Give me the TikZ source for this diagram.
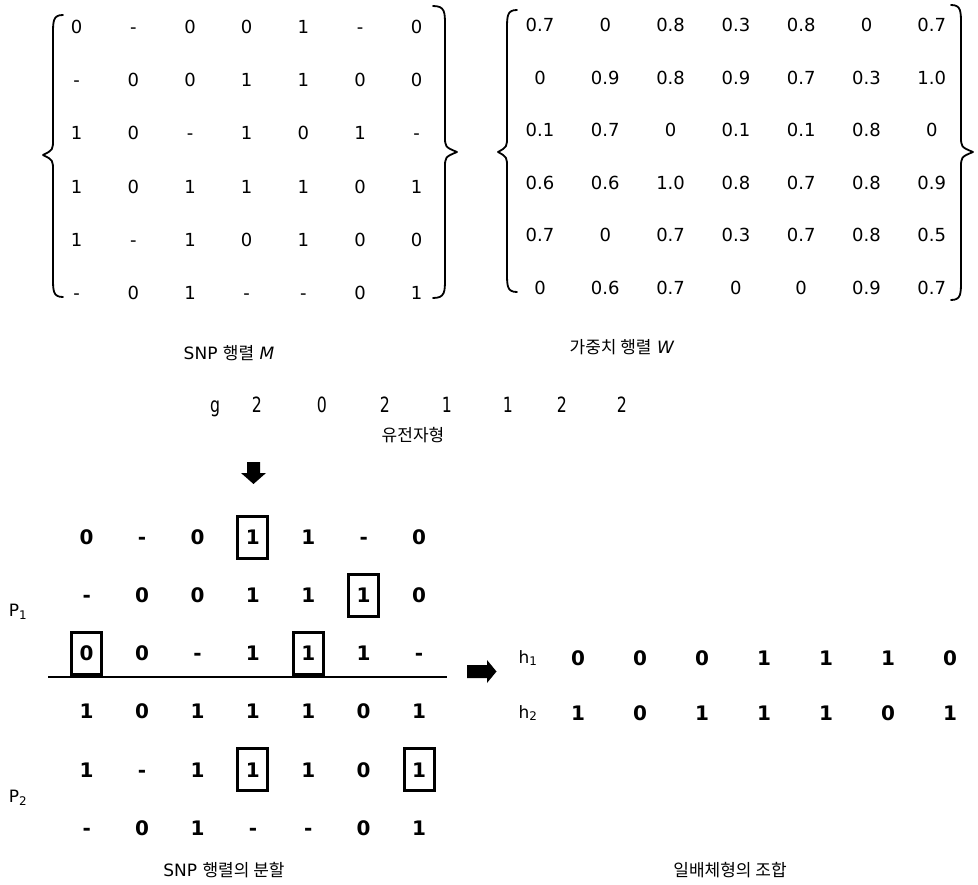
\documentclass[tikz,border=0pt]{standalone}
\usepackage{fontspec}
\setmainfont{DejaVu Sans}
\newfontfamily\kr{Noto Sans CJK KR}
\newfontfamily\narrowf[FakeStretch=0.75]{DejaVu Sans}
\begin{document}
\begin{tikzpicture}[x=1pt,y=-1pt,
  cell/.style={inner sep=0pt, font=\fontsize{18}{20}\selectfont, text height=13.1pt, text depth=0pt},
  bcell/.style={inner sep=0pt, font=\fontsize{20}{22}\selectfont\bfseries, text height=14.6pt, text depth=0pt},
  gcell/.style={inner sep=0pt, font=\fontsize{21}{23}\selectfont\narrowf, text height=15.3pt, text depth=0pt},
  lbl/.style={inner sep=0pt, font=\fontsize{17}{19}\selectfont},
  brace/.style={line width=1.8pt, line cap=round, line join=round},
  boxmark/.style={draw, line width=3pt, minimum width=30pt, minimum height=42pt, inner sep=0pt},
  blockarrow/.style={fill=black, draw=none}]
\useasboundingbox (0,0) rectangle (978,885);
% braces: {xt}{xv}{xm}{yt}{ym}{yb}
\newcommand\mybraceL[6]{\draw[brace] (#1,#4) .. controls (#2,#4) and (#2,#4+6) .. (#2,#4+20) -- (#2,#5-16) .. controls (#2,#5-5) .. (#3,#5) .. controls (#2,#5+5) .. (#2,#5+16) -- (#2,#6-20) .. controls (#2,#6-6) and (#2,#6) .. (#1,#6);}
\mybraceL{63}{53}{43}{15}{155}{297}
\mybraceL{433}{445}{457}{6}{152}{298}
\mybraceL{517}{507}{498}{10}{152}{292}
\mybraceL{951}{961}{973}{5}{152}{300}
% matrix M
\foreach \row [count=\r] in {{0,-,0,0,1,-,0},{-,0,0,1,1,0,0},{1,0,-,1,0,1,-},{1,0,1,1,1,0,1},{1,-,1,0,1,0,0},{-,0,1,-,-,0,1}}{
  \foreach \v [count=\c] in \row {
    \node[cell] (m-\r-\c) at ({76.7+(\c-1)*56.67},{26.7+(\r-1)*53.3}) {\v};
  }
}
% matrix W
\foreach \row [count=\r] in {{0.7,0,0.8,0.3,0.8,0,0.7},{0,0.9,0.8,0.9,0.7,0.3,1.0},{0.1,0.7,0,0.1,0.1,0.8,0},{0.6,0.6,1.0,0.8,0.7,0.8,0.9},{0.7,0,0.7,0.3,0.7,0.8,0.5},{0,0.6,0.7,0,0,0.9,0.7}}{
  \foreach \v [count=\c] in \row {
    \node[cell] (w-\r-\c) at ({540+(\c-1)*65.3},{25+(\r-1)*52.5}) {\v};
  }
}
\node[lbl] (lm) at (229,353) {SNP {\kr 행렬} \textit{M}};
\node[lbl] (lw) at (622,347) {{\kr 가중치 행렬} \textit{W}};
% genotype
\node[gcell] (g0) at (215,405) {g};
\foreach \v/\x [count=\c] in {2/257,0/322,2/385,1/447,1/508,2/562,2/622}{
  \node[gcell] (g-\c) at (\x,405) {\v};
}
\node[lbl] (lg) at (413,435) {\kr 유전자형};
% down arrow
\fill[blockarrow] (247,462) -- (260,462) -- (260,473) -- (266,473) -- (253.5,484) -- (241,473) -- (247,473) -- cycle;
% bottom matrix
\foreach \row [count=\r] in {{0,-,0,1,1,-,0},{-,0,0,1,1,1,0},{0,0,-,1,1,1,-},{1,0,1,1,1,0,1},{1,-,1,1,1,0,1},{-,0,1,-,-,0,1}}{
  \foreach \v [count=\c] in \row {
    \node[bcell] (b-\r-\c) at ({86.7+(\c-1)*55.4},{537+(\r-1)*58.2}) {\v};
  }
}
\foreach \r/\c in {1/4,2/6,3/1,3/5,5/4,5/7}{
  \node[boxmark] (bx-\r-\c) at (b-\r-\c) {};
}
\coordinate (sl) at (48,677);
\coordinate (sr) at (447,677);
\draw[line width=1.8pt] (sl) -- (sr);
\node[lbl] (p1) at (18,612) {P\textsubscript{1}};
\node[lbl] (p2) at (18,798) {P\textsubscript{2}};
% right arrow
\fill[blockarrow] (467,665) -- (487,665) -- (487,660) -- (496.5,671.5) -- (487,683) -- (487,678) -- (467,678) -- cycle;
% haplotypes
\node[lbl] (h1) at (528,658) {h\textsubscript{1}};
\node[lbl] (h2) at (528,713) {h\textsubscript{2}};
\foreach \v [count=\c] in {0,0,0,1,1,1,0}{
  \node[bcell] (h1-\c) at ({578+(\c-1)*62},658) {\v};
}
\foreach \v [count=\c] in {1,0,1,1,1,0,1}{
  \node[bcell] (h2-\c) at ({578+(\c-1)*62},713) {\v};
}
\node[lbl] (ls) at (224,870) {SNP {\kr 행렬의 분할}};
\node[lbl] (lh) at (730,870) {\kr 일배체형의 조합};
\end{tikzpicture}
\end{document}
